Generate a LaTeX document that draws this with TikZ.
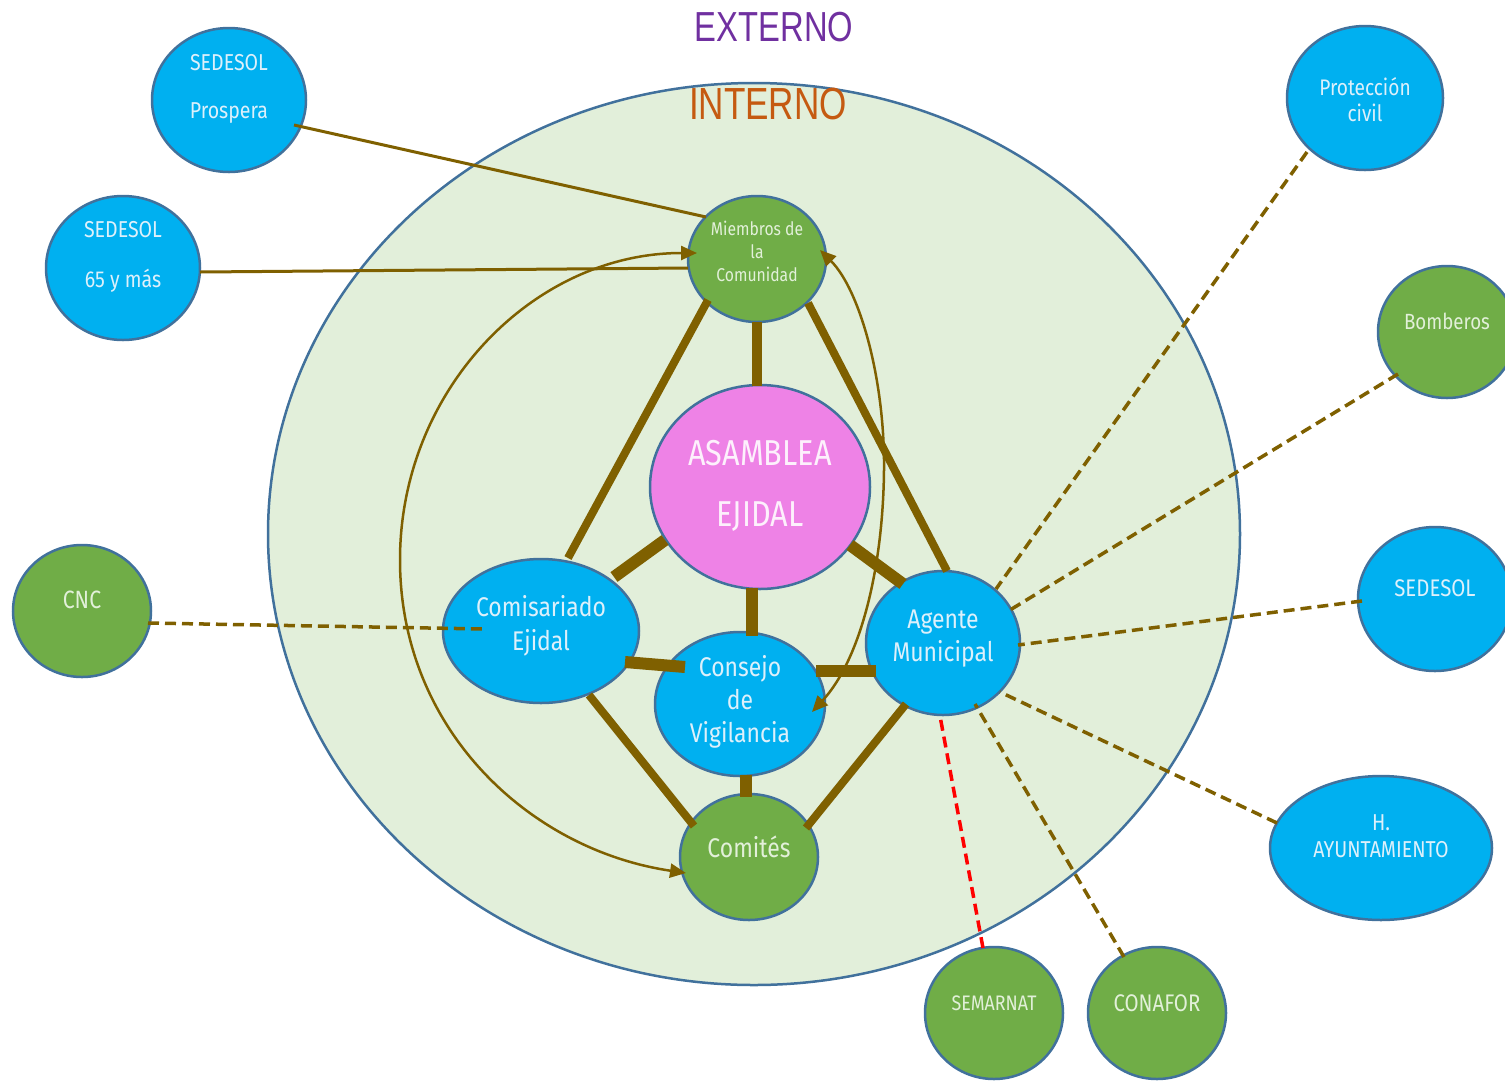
\documentclass[tikz,border=0pt]{standalone}
\usepackage{fontspec}
\setmainfont{Fira Sans}[FakeStretch=0.85]
\newfontfamily\titlefont{Liberation Sans}[FakeStretch=0.78]
\usetikzlibrary{arrows.meta,calc,shapes.geometric}
\definecolor{nblue}{HTML}{00B0F0}
\definecolor{ngreen}{HTML}{70AD47}
\definecolor{npink}{HTML}{EE82E6}
\definecolor{bggreen}{HTML}{E2EFDA}
\definecolor{edgec}{HTML}{41719C}
\definecolor{brownc}{HTML}{7F6000}
\definecolor{purp}{HTML}{7030A0}
\definecolor{oran}{HTML}{C55A11}
\definecolor{txtb}{HTML}{DDF0FB}
\definecolor{txtg}{HTML}{E2F0D9}
\tikzset{
  ell/.style={ellipse, draw=edgec, line width=2.5, inner sep=0, outer sep=0},
  bnode/.style={ell, fill=nblue},
  gnode/.style={ell, fill=ngreen},
  pnode/.style={ell, fill=npink},
  btxt/.style={text=txtb, align=center, inner sep=0},
  gtxt/.style={text=txtg, align=center, inner sep=0},
  thickc/.style={draw=brownc, line width=#1},
  thinc/.style={draw=brownc, line width=3},
  curvc/.style={draw=brownc, line width=2.5, {Triangle[length=16,width=14]}-{Triangle[length=16,width=14]}},
  dashc/.style={draw=brownc, line width=3.5, dash pattern=on 11 off 6},
  reddash/.style={draw=red, line width=3.5, dash pattern=on 11 off 6},
}
\begin{document}
\begin{tikzpicture}[x=1pt, y=-1pt]
\useasboundingbox (0,0) rectangle (1505,1080);
\clip (0,0) rectangle (1505,1080);
% background ellipse
\node[ell, fill=bggreen, minimum width=972, minimum height=902] (inner) at (754,534) {};
% titles
\node[font=\titlefont\fontsize{42}{46}\selectfont, inner sep=0, text=purp] (ext) at (774,27) {EXTERNO};
\node[font=\titlefont\fontsize{45}{48}\selectfont, inner sep=0, text=oran] (int) at (768,104) {INTERNO};
% nodes
\node[bnode, minimum width=154, minimum height=144] (prosp) at (229,100) {};
\node[bnode, minimum width=154, minimum height=144] (sed65) at (123,268) {};
\node[gnode, minimum width=138, minimum height=126] (miem) at (757,259) {};
\node[pnode, minimum width=220, minimum height=204] (asam) at (760,487) {};
\node[bnode, minimum width=196, minimum height=144] (comis) at (541,631) {};
\node[bnode, minimum width=170, minimum height=144] (cons) at (740,704) {};
\node[bnode, minimum width=154, minimum height=144] (agent) at (943,643) {};
\node[gnode, minimum width=138, minimum height=126] (comit) at (749,857) {};
\node[gnode, minimum width=138, minimum height=132] (cnc) at (82,611) {};
\node[bnode, minimum width=156, minimum height=144] (proc) at (1365,98) {};
\node[gnode, minimum width=138, minimum height=132] (bomb) at (1447,332) {};
\node[bnode, minimum width=154, minimum height=144] (sedr) at (1435,599) {};
\node[bnode, minimum width=222, minimum height=144] (ayun) at (1381,848) {};
\node[gnode, minimum width=138, minimum height=132] (semar) at (994,1013) {};
\node[gnode, minimum width=138, minimum height=132] (conaf) at (1157,1013) {};
% texts
\node[btxt, font=\fontsize{23}{48}\selectfont] (prosp-t) at (229,89) {SEDESOL\\Prospera};
\node[btxt, font=\fontsize{23}{50}\selectfont] (sed65-t) at (123,257) {SEDESOL\\65 y más};
\node[gtxt, font=\fontsize{18.5}{23}\selectfont] (miem-t) at (757,251) {Miembros de\\la\\Comunidad};
\node[text=white!88!npink, align=center, inner sep=0, font=\fontsize{36}{61}\selectfont] (asam-t) at (760,486) {ASAMBLEA\\EJIDAL};
\node[btxt, font=\fontsize{27}{34}\selectfont] (comis-t) at (541,626) {Comisariado\\Ejidal};
\node[btxt, font=\fontsize{27}{33}\selectfont] (cons-t) at (740,702) {Consejo\\de\\Vigilancia};
\node[btxt, font=\fontsize{27}{33}\selectfont] (agent-t) at (943,639) {Agente\\Municipal};
\node[gtxt, font=\fontsize{27}{30}\selectfont] (comit-t) at (749,847) {Comités};
\node[gtxt, font=\fontsize{25}{28}\selectfont] (cnc-t) at (82,600) {CNC};
\node[btxt, font=\fontsize{22.5}{26}\selectfont] (proc-t) at (1365,100) {Protección\\civil};
\node[gtxt, font=\fontsize{22}{26}\selectfont] (bomb-t) at (1447,321) {Bomberos};
\node[btxt, font=\fontsize{24}{26}\selectfont] (sedr-t) at (1435,588) {SEDESOL};
\node[btxt, font=\fontsize{23}{27}\selectfont] (ayun-t) at (1381,836) {H.\\AYUNTAMIENTO};
\node[gtxt, font=\fontsize{21}{24}\selectfont] (semar-t) at (994,1003) {SEMARNAT};
\node[gtxt, font=\fontsize{24}{26}\selectfont] (conaf-t) at (1157,1003) {CONAFOR};
% thin connectors
\draw[thinc] ($(prosp.center)+(65,25)$) -- ($(miem.center)+(-51,-42)$);
\draw[thinc] ($(sed65.center)+(77,4)$) -- ($(miem.center)+(-69,9)$);
% thick connectors
\draw[thickc=10] ($(miem.center)+(0,63)$) -- ($(asam.center)+(-3,-101)$);
\draw[thickc=8] ($(miem.center)+(-49,41)$) -- ($(comis.center)+(27,-73)$);
\draw[thickc=8] ($(miem.center)+(51,44)$) -- ($(agent.center)+(4,-72)$);
\draw[thickc=12] ($(asam.center)+(-95,53)$) -- ($(comis.center)+(73,-54)$);
\draw[thickc=12] ($(asam.center)+(90,58)$) -- ($(agent.center)+(-40,-59)$);
\draw[thickc=12] ($(asam.center)+(-8,101)$) -- ($(cons.center)+(12,-68)$);
\draw[thickc=12] ($(comis.center)+(84,31)$) -- ($(cons.center)+(-55,-37)$);
\draw[thickc=12] ($(cons.center)+(76,-33)$) -- ($(agent.center)+(-67,28)$);
\draw[thickc=12] ($(cons.center)+(6,71)$) -- ($(comit.center)+(-3,-60)$);
\draw[thickc=8] ($(comis.center)+(48,64)$) -- ($(comit.center)+(-55,-31)$);
\draw[thickc=8] ($(agent.center)+(-37,61)$) -- ($(comit.center)+(57,-29)$);
% curved arrows
\draw[curvc] ($(miem.center)+(-60,-6)$) .. controls (533,253) and (400,390) .. (400,560)
  .. controls (400,730) and (530,850) .. ($(comit.center)+(-63,16)$);
\draw[curvc] ($(miem.center)+(63,-9)$) .. controls (860,290) and (885,380) .. (884,470)
  .. controls (883,570) and (860,660) .. ($(cons.center)+(72,8)$);
% dashed connectors
\draw[dashc] ($(cnc.center)+(66,12)$) -- ($(comis.center)+(-56,-2)$);
\draw[dashc] ($(proc.center)+(-58,54)$) -- ($(agent.center)+(53,-54)$);
\draw[dashc] ($(bomb.center)+(-49,42)$) -- ($(agent.center)+(67,-33)$);
\draw[dashc] ($(sedr.center)+(-73,2)$) -- ($(agent.center)+(75,2)$);
\draw[dashc] ($(ayun.center)+(-104,-25)$) -- ($(agent.center)+(57,49)$);
\draw[dashc] ($(conaf.center)+(-33,-56)$) -- ($(agent.center)+(32,61)$);
\draw[reddash] ($(semar.center)+(-11,-65)$) -- ($(agent.center)+(-3,73)$);
\end{tikzpicture}
\end{document}
